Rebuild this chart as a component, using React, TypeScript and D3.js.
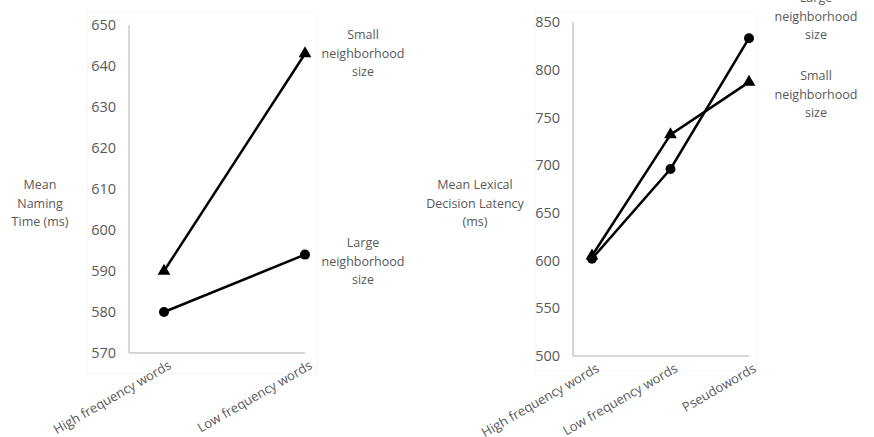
import React from "react";
import * as d3 from "d3";

const leftCategories = ["High frequency words", "Low frequency words"];
const leftSmall = [590, 643];
const leftLarge = [580, 594];
const leftTicks = [570, 580, 590, 600, 610, 620, 630, 640, 650];

const rightCategories = ["High frequency words", "Low frequency words", "Pseudowords"];
const rightSmall = [605, 732, 787];
const rightLarge = [602, 696, 833];
const rightTicks = [500, 550, 600, 650, 700, 750, 800, 850];

const FONT = "'Open Sans', sans-serif";
const GRAY = "#595959";

type PanelProps = {
  cats: string[];
  small: number[];
  large: number[];
  ticks: number[];
  axisX: number;
  axisEnd: number;
  pointRange: [number, number];
  yRange: [number, number];
  yDomain: [number, number];
  border: [number, number, number, number];
  titleLines: string[];
  titleX: number;
  titleY: number;
  smallLabelY: number;
  largeLabelY: number;
  labelX: number;
};

function Panel(p: PanelProps) {
  const x = d3.scalePoint<string>().domain(p.cats).range(p.pointRange);
  const y = d3.scaleLinear().domain(p.yDomain).range(p.yRange);
  const line = d3
    .line<number>()
    .x((_, i) => x(p.cats[i]) as number)
    .y((d) => y(d));
  const tri = d3.symbol().type(d3.symbolTriangle).size(70)();
  const [bx, by, bw, bh] = p.border;
  const legend = (lines: string[], yy: number) => (
    <text x={p.labelX} y={yy} textAnchor="middle" fill={GRAY} fontSize={12.5} fontFamily={FONT}>
      {lines.map((l, i) => (
        <tspan key={i} x={p.labelX} dy={i === 0 ? 0 : 18.5}>
          {l}
        </tspan>
      ))}
    </text>
  );
  return (
    <g>
      <rect x={bx} y={by} width={bw} height={bh} fill="none" stroke="#f5f5f5" />
      <line x1={p.axisX} x2={p.axisX} y1={p.yRange[1]} y2={p.yRange[0]} stroke="#c8c8c8" strokeWidth={1.5} />
      <line x1={p.axisX} x2={p.axisEnd} y1={p.yRange[0]} y2={p.yRange[0]} stroke="#c8c8c8" strokeWidth={1.5} />
      {p.ticks.map((t) => (
        <text key={t} x={p.axisX - 13} y={y(t)} dy="0.35em" textAnchor="end" fill={GRAY} fontSize={14.5} fontFamily={FONT}>
          {t}
        </text>
      ))}
      {p.cats.map((c) => (
        <text
          key={c}
          transform={`translate(${(x(c) as number) + 8},${p.yRange[0] + 15}) rotate(-30)`}
          textAnchor="end"
          fill={GRAY}
          fontSize={13}
          fontFamily={FONT}
        >
          {c}
        </text>
      ))}
      <text x={p.titleX} y={p.titleY} textAnchor="middle" fill={GRAY} fontSize={12.5} fontFamily={FONT}>
        {p.titleLines.map((l, i) => (
          <tspan key={i} x={p.titleX} dy={i === 0 ? 0 : 18.5}>
            {l}
          </tspan>
        ))}
      </text>
      <path d={line(p.small) || ""} fill="none" stroke="#000" strokeWidth={2.5} />
      <path d={line(p.large) || ""} fill="none" stroke="#000" strokeWidth={2.5} />
      {p.small.map((v, i) => (
        <path key={"s" + i} d={tri || ""} transform={`translate(${x(p.cats[i])},${y(v)})`} fill="#000" />
      ))}
      {p.large.map((v, i) => (
        <circle key={"l" + i} cx={x(p.cats[i])} cy={y(v)} r={5} fill="#000" />
      ))}
      {legend(["Small", "neighborhood", "size"], p.smallLabelY)}
      {legend(["Large", "neighborhood", "size"], p.largeLabelY)}
    </g>
  );
}

export default function App() {
  return (
    <svg width={874} height={437} style={{ position: "absolute", left: 0, top: 0, background: "#fff" }}>
      <Panel
        cats={leftCategories}
        small={leftSmall}
        large={leftLarge}
        ticks={leftTicks}
        axisX={129}
        axisEnd={305}
        pointRange={[164, 305]}
        yRange={[353, 25]}
        yDomain={[570, 650]}
        border={[87, 12, 230, 362]}
        titleLines={["Mean", "Naming", "Time (ms)"]}
        titleX={40}
        titleY={189}
        smallLabelY={39}
        largeLabelY={247}
        labelX={363}
      />
      <Panel
        cats={rightCategories}
        small={rightSmall}
        large={rightLarge}
        ticks={rightTicks}
        axisX={573}
        axisEnd={749}
        pointRange={[592, 749]}
        yRange={[356, 22]}
        yDomain={[500, 850]}
        border={[535, 12, 222, 359]}
        titleLines={["Mean Lexical", "Decision Latency", "(ms)"]}
        titleX={475}
        titleY={189}
        smallLabelY={80}
        largeLabelY={2}
        labelX={816}
      />
    </svg>
  );
}
